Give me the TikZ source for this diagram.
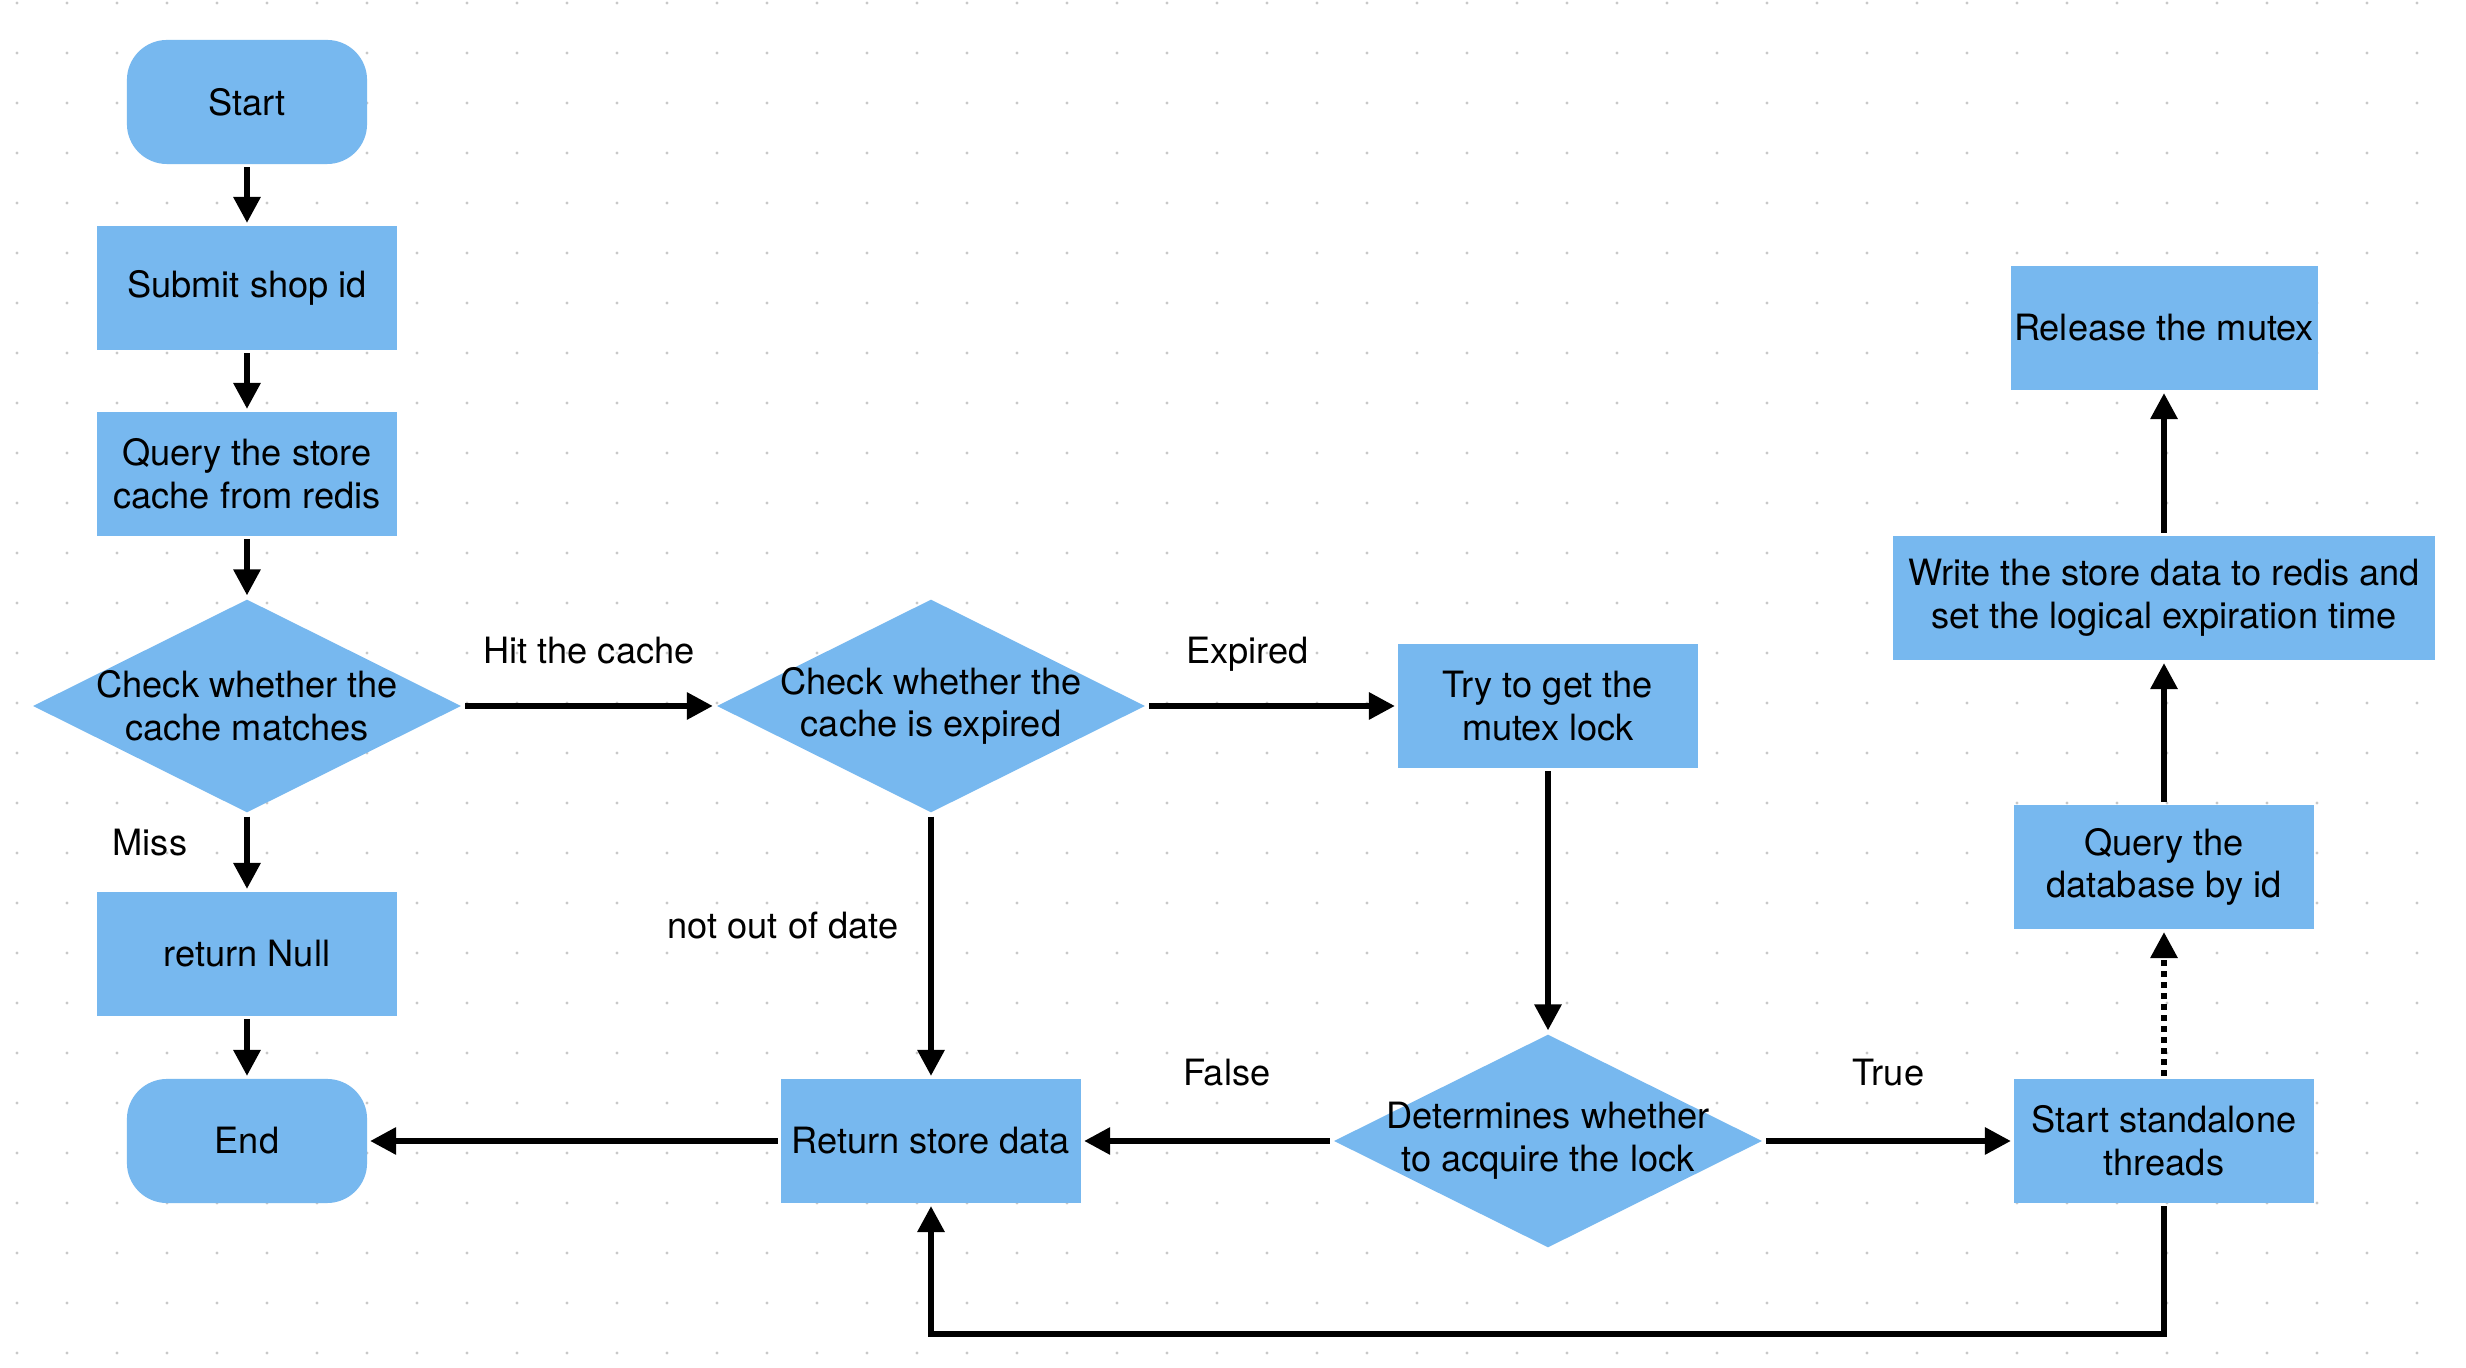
\documentclass[tikz,border=0pt]{standalone}
\usepackage{fontspec}
\setmainfont{TeX Gyre Heros}
\usetikzlibrary{shapes.geometric,arrows.meta}
\definecolor{boxblue}{RGB}{119,184,239}
\definecolor{dotgray}{RGB}{200,200,200}
\newcommand{\flowfont}{\fontsize{10.3}{12.1}\selectfont}

\begin{document}
\begin{tikzpicture}[x=0.01cm, y=-0.01cm, line width=0.6mm,
    arr/.style={-{Triangle[length=2.6mm,width=2.6mm]}},
    box/.style={rectangle,fill=boxblue,minimum width=3cm,minimum height=1.24cm,align=center,inner sep=1pt,font=\flowfont},
    wide/.style={box,minimum width=5.42cm},
    term/.style={box,rounded corners=0.4cm,minimum width=2.4cm},
    decision/.style={diamond,fill=boxblue,minimum width=4.3cm,minimum height=2.15cm,inner sep=0pt},
    dtext/.style={align=center,font=\flowfont,inner sep=0pt},
    lbl/.style={font=\flowfont,inner sep=0pt,text height=0.72em,text depth=0pt}]
  \fill[white] (0,0) rectangle (2466,1368);
  \useasboundingbox (0,0) rectangle (2466,1368);
  \foreach \i in {0,...,48}
    \foreach \j in {0,...,27}
      \fill[dotgray] (17+50*\i,3+50*\j) circle (0.16mm);

  \node[term] (start) at (247,102) {Start};
  \node[box] (submit) at (247,288) {Submit shop id};
  \node[box] (query) at (247,474) {Query the store\\cache from redis};
  \node[decision,label={[dtext]center:{Check whether the\\cache matches}}] (match) at (247,706) {};
  \node[box] (null) at (247,954) {return Null};
  \node[term] (end) at (247,1141) {End};
  \node[decision,label={[dtext]center:{Check whether the\\cache is expired}}] (expired) at (931,706) {};
  \node[box] (return) at (931,1141) {Return store data};
  \node[box] (try) at (1548,706) {Try to get the\\mutex lock};
  \node[decision,label={[dtext]center:{Determines whether\\to acquire the lock}}] (lock) at (1548,1141) {};
  \node[box] (thread) at (2164,1141) {Start standalone\\threads};
  \node[box] (db) at (2164,867) {Query the\\database by id};
  \node[wide] (write) at (2164,598) {Write the store data to redis and\\set the logical expiration time};
  \node[box] (release) at (2164,328) {Release the mutex};
  \coordinate (bend) at (2164,1334);

  \draw[arr] (start) -- (submit);
  \draw[arr] (submit) -- (query);
  \draw[arr] (query) -- (match);
  \draw[arr] (match) -- node[lbl,pos=0.36,xshift=-0.97cm] (miss) {Miss} (null);
  \draw[arr] (null) -- (end);
  \draw[arr] (match) -- node[lbl,midway,yshift=0.55cm] (hit) {Hit the cache} (expired);
  \draw[arr] (expired) -- node[lbl,pos=0.4,yshift=0.55cm] (exp) {Expired} (try);
  \draw[arr] (expired) -- node[lbl,pos=0.42,xshift=-1.48cm] (fresh) {not out of date} (return);
  \draw[arr] (try) -- (lock);
  \draw[arr] (lock) -- node[lbl,pos=0.42,yshift=0.68cm] (no) {False} (return);
  \draw[arr] (lock) -- node[lbl,midway,yshift=0.68cm] (yes) {True} (thread);
  \draw[arr,dash pattern=on 0.55mm off 0.55mm] (thread) -- (db);
  \draw[arr] (db) -- (write);
  \draw[arr] (write) -- (release);
  \draw[arr] (return) -- (end);
  \draw[arr] (thread) -- (bend) -| (return);
\end{tikzpicture}
\end{document}
